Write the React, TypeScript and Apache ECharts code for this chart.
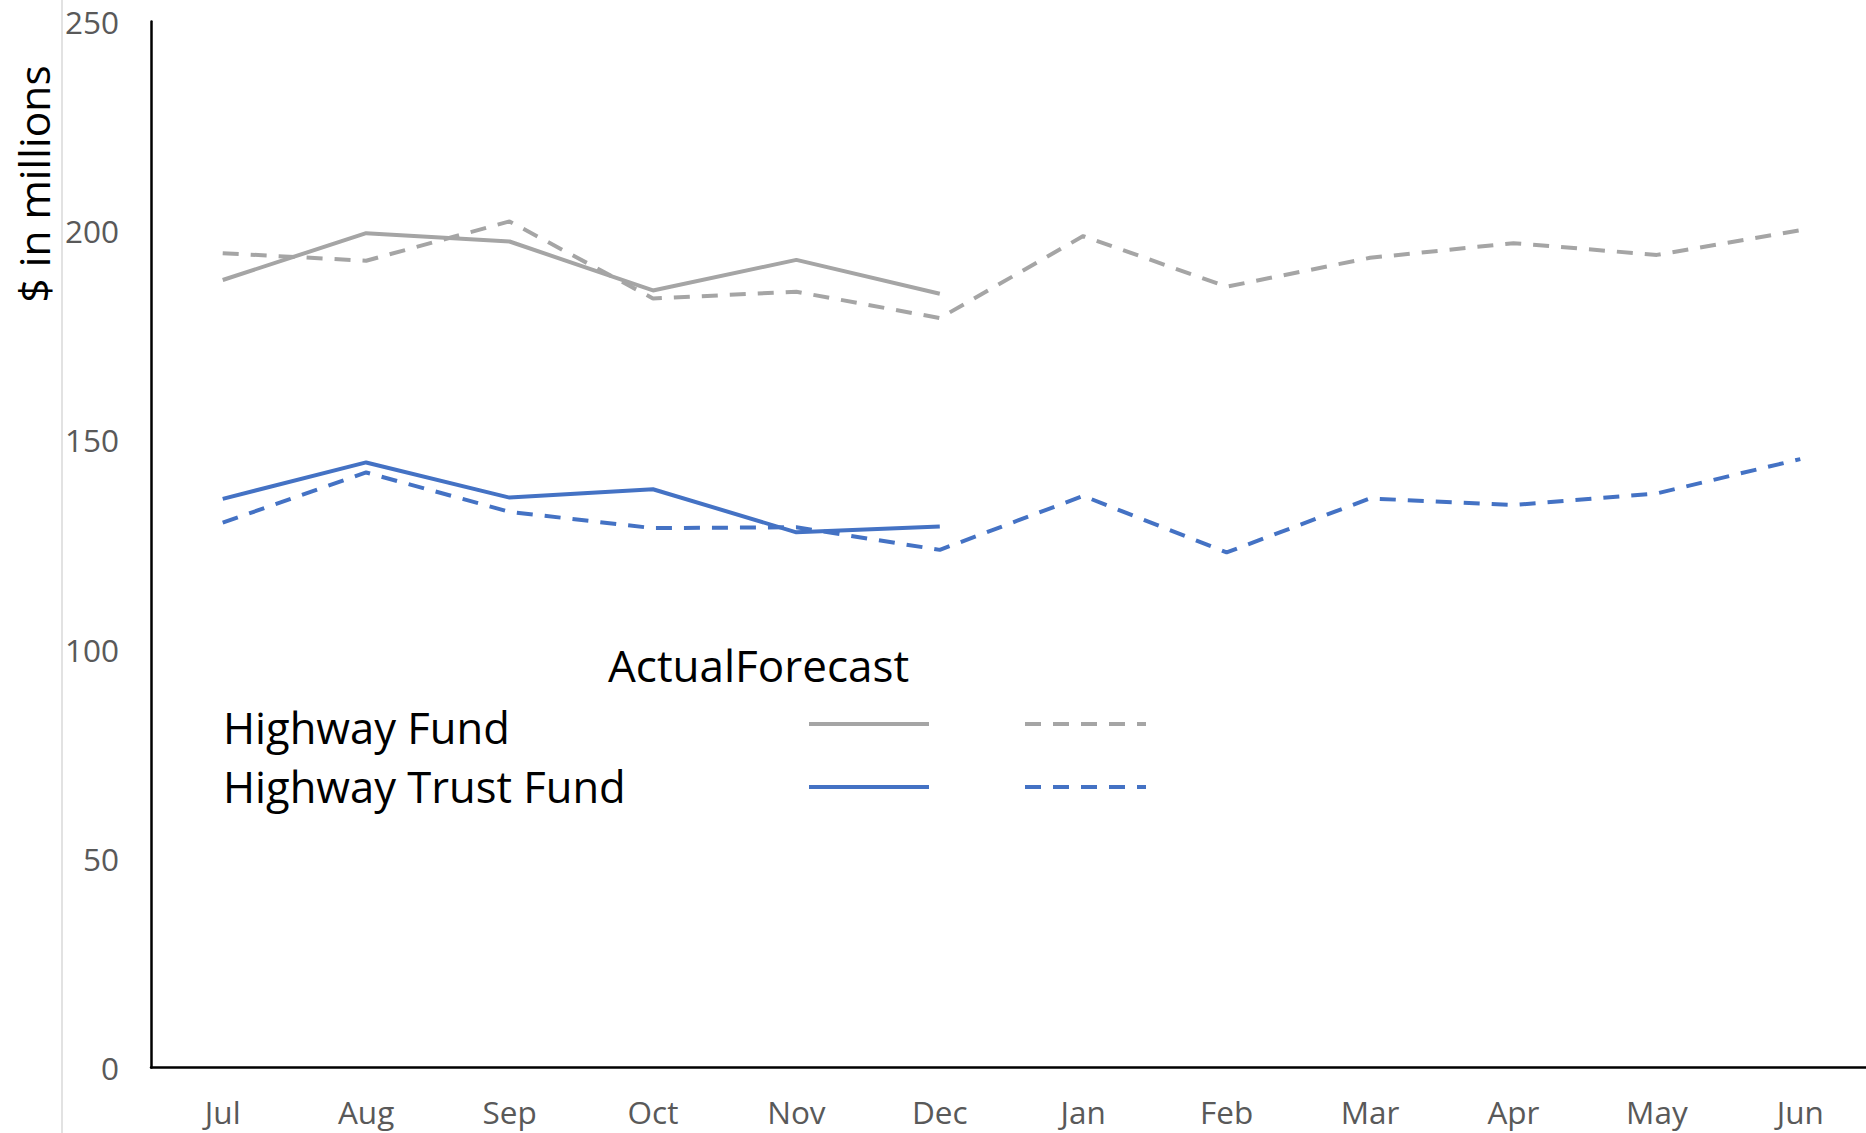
import React, { useEffect, useRef } from "react";
import * as echarts from "echarts";

const months = ["Jul", "Aug", "Sep", "Oct", "Nov", "Dec", "Jan", "Feb", "Mar", "Apr", "May", "Jun"];
const hfActual = [188.2, 199.4, 197.4, 185.7, 193.0, 184.9];
const hfForecast = [194.6, 192.8, 202.2, 183.8, 185.4, 179.1, 198.7, 186.6, 193.5, 197.0, 194.2, 200.1];
const htfActual = [135.9, 144.6, 136.2, 138.2, 127.9, 129.3];
const htfForecast = [130.2, 142.2, 132.8, 128.9, 129.1, 123.7, 136.6, 123.1, 136.0, 134.4, 137.2, 145.4];
const yTicks = { min: 0, max: 250, interval: 50 };
const axisTitle = "$ in millions";
const legendHeader = "ActualForecast";
const legendRows = ["Highway Fund", "Highway Trust Fund"];

const GRAY = "#A5A5A5";
const BLUE = "#4472C4";
const FONT = "'Open Sans', 'Noto Sans', sans-serif";
const DASH = [16, 12];
const W = 1880;
const H = 1133;

export default function App() {
  const ref = useRef<HTMLDivElement>(null);
  useEffect(() => {
    if (!ref.current) return;
    const chart = echarts.init(ref.current, null, { renderer: "svg" });
    const rowColors = [GRAY, BLUE];
    const rowY = [724, 787];
    const textY = [727, 786];
    const legendGraphics: any[] = [];
    legendGraphics.push({
      type: "text",
      left: 608,
      top: 643,
      style: { text: legendHeader, font: `44px ${FONT}`, fill: "#000" },
    });
    legendRows.forEach((name, i) => {
      legendGraphics.push({
        type: "text",
        x: 223,
        y: textY[i],
        style: { text: name, font: `43.5px ${FONT}`, fill: "#000", textAlign: "left", textVerticalAlign: "middle" },
      });
      legendGraphics.push({
        type: "line",
        shape: { x1: 809, y1: rowY[i], x2: 929, y2: rowY[i] },
        style: { stroke: rowColors[i], lineWidth: 4 },
      });
      legendGraphics.push({
        type: "line",
        shape: { x1: 1025, y1: rowY[i], x2: 1146, y2: rowY[i] },
        style: { stroke: rowColors[i], lineWidth: 4, lineDash: DASH },
      });
    });
    chart.setOption({
      animation: false,
      backgroundColor: "#fff",
      grid: { left: 151, top: 21.4, right: W - 1872, bottom: H - 1067.5, containLabel: false },
      xAxis: {
        type: "category",
        data: months,
        boundaryGap: true,
        axisLine: { lineStyle: { color: "#000", width: 2.5 } },
        axisTick: { show: false },
        axisLabel: { color: "#595959", fontSize: 31.5, fontFamily: FONT, margin: 28, interval: 0 },
        splitLine: { show: false },
      },
      yAxis: {
        type: "value",
        min: yTicks.min,
        max: yTicks.max,
        interval: yTicks.interval,
        axisLine: { show: true, lineStyle: { color: "#000", width: 2.5 } },
        axisTick: { show: false },
        axisLabel: { color: "#595959", fontSize: 31.5, fontFamily: FONT, margin: 32 },
        splitLine: { show: false },
      },
      graphic: [
        {
          type: "line",
          shape: { x1: 62, y1: 0, x2: 62, y2: H },
          style: { stroke: "#D9D9D9", lineWidth: 1.5 },
        },
        {
          type: "text",
          x: 33,
          y: 184,
          rotation: Math.PI / 2,
          style: { text: axisTitle, font: `42.5px ${FONT}`, fill: "#000", textAlign: "center", textVerticalAlign: "middle" },
        },
        ...legendGraphics,
      ],
      series: [
        { name: "Highway Fund Actual", type: "line", data: hfActual, symbol: "none", lineStyle: { color: GRAY, width: 4 }, z: 2 },
        { name: "Highway Trust Fund Actual", type: "line", data: htfActual, symbol: "none", lineStyle: { color: BLUE, width: 4 }, z: 2 },
        { name: "Highway Fund Forecast", type: "line", data: hfForecast, symbol: "none", lineStyle: { color: GRAY, width: 4, type: DASH }, z: 3 },
        { name: "Highway Trust Fund Forecast", type: "line", data: htfForecast, symbol: "none", lineStyle: { color: BLUE, width: 4, type: DASH }, z: 3 },
      ],
    });
    return () => chart.dispose();
  }, []);
  return <div ref={ref} style={{ position: "fixed", left: 0, top: 0, width: W, height: H }} />;
}
